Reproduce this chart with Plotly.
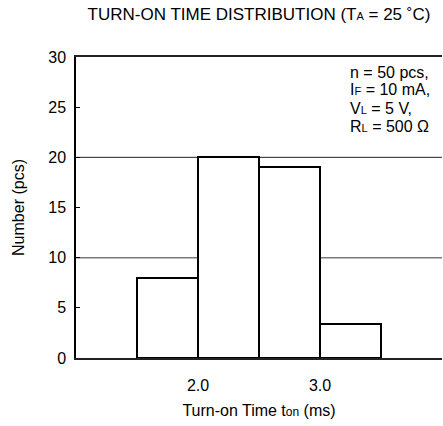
import plotly.graph_objects as go

# Data
bin_centers = [1.75, 2.25, 2.75, 3.25]   # turn-on time (ms), bin width 0.5
counts = [8, 20, 19, 3.4]
bin_width = 0.5
x_tick_vals = [2.0, 3.0]
x_tick_text = ["2.0", "3.0"]
y_tick_vals = [0, 5, 10, 15, 20, 25, 30]
note_lines = [
    "n = 50 pcs,",
    "I<span style='font-size:11px'>F</span> = 10 mA,",
    "V<span style='font-size:11px'>L</span> = 5 V,",
    "R<span style='font-size:11px'>L</span> = 500 Ω",
]

FONT = "Liberation Sans, Arial, sans-serif"
FS = 16

W, H = 443, 426
ML, MR, MT, MB = 76, 1, 57, 68
plot_h = H - MT - MB

fig = go.Figure()
fig.add_trace(go.Bar(
    x=bin_centers, y=counts, width=bin_width,
    marker=dict(color="white", line=dict(color="black", width=2)),
    showlegend=False, hoverinfo="skip",
))

shapes = [
    dict(type="line", xref="paper", yref="y", x0=0, x1=1, y0=10, y1=10,
         line=dict(color="#7a7a7a", width=1.5), layer="below"),
    dict(type="line", xref="paper", yref="y", x0=0, x1=1, y0=20, y1=20,
         line=dict(color="#222222", width=1), layer="below"),
]

# note text lines, vertical centres in px from figure top
note_px = [72, 90, 108, 127]
annotations = []
for txt, py in zip(note_lines, note_px):
    annotations.append(dict(
        xref="paper", yref="paper", x=(348 - ML) / (W - ML - MR), y=1 - (py - MT) / plot_h,
        xanchor="left", yanchor="middle", align="left", showarrow=False,
        text=txt, font=dict(family=FONT, size=FS, color="black"),
    ))

fig.update_layout(
    width=W, height=H,
    margin=dict(l=ML, r=MR, t=MT, b=MB, autoexpand=False),
    paper_bgcolor="white", plot_bgcolor="white",
    font=dict(family=FONT, size=FS, color="black"),
    bargap=0,
    shapes=shapes,
    annotations=annotations,
    title=dict(
        text="TURN-ON TIME DISTRIBUTION (T<span style='font-size:11px'>A</span> = 25 ˚C)",
        x=259 / W, xanchor="center", y=1 - 14 / H, yanchor="middle",
        font=dict(family=FONT, size=17, color="black"),
    ),
    xaxis=dict(
        range=[1, 4], tickvals=x_tick_vals, ticktext=x_tick_text,
        showgrid=False, zeroline=False, showline=True, linecolor="#222222",
        linewidth=2, mirror=True, ticks="", ticklen=0, automargin=False,
        ticklabelstandoff=12,
        tickfont=dict(family=FONT, size=FS),
        title=dict(text="Turn-on Time t<span style='font-size:12px'>on</span> (ms)",
                   font=dict(family=FONT, size=FS), standoff=12),
    ),
    yaxis=dict(
        range=[0, 30], tickvals=y_tick_vals, automargin=False,
        showgrid=False, zeroline=False, showline=True, linecolor="black",
        linewidth=1.5, ticks="inside", ticklen=4, tickcolor="black",
        ticklabelstandoff=5,
        tickfont=dict(family=FONT, size=FS),
        title=dict(text="Number (pcs)", font=dict(family=FONT, size=FS), standoff=20),
    ),
)

fig.write_html("out.html", config={"displayModeBar": False},
               post_script="document.body.style.margin='0px';")
